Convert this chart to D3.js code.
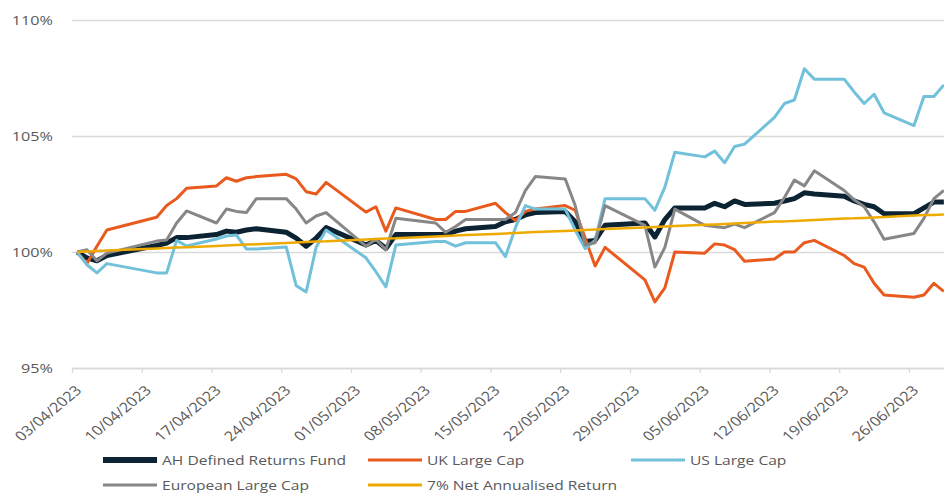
<!DOCTYPE html>
<html lang="en">
<head>
<meta charset="UTF-8">
<title>AH Defined Returns Fund vs markets</title>
<script src="https://d3js.org/d3.v7.min.js"></script>
<style>
  body { margin: 0; background: #fff; }
  text { font-family: "Open Sans", sans-serif; fill: #595959; }
</style>
</head>
<body>
<div id="chart"></div>
<script>
// trading days shown on the chart
var dates = [
  "03/04/2023","04/04/2023","05/04/2023","06/04/2023","11/04/2023","12/04/2023","13/04/2023","14/04/2023",
  "17/04/2023","18/04/2023","19/04/2023","20/04/2023","21/04/2023",
  "24/04/2023","25/04/2023","26/04/2023","27/04/2023","28/04/2023",
  "02/05/2023","03/05/2023","04/05/2023","05/05/2023",
  "09/05/2023","10/05/2023","11/05/2023","12/05/2023",
  "15/05/2023","16/05/2023","17/05/2023","18/05/2023","19/05/2023",
  "22/05/2023","23/05/2023","24/05/2023","25/05/2023","26/05/2023",
  "30/05/2023","31/05/2023","01/06/2023","02/06/2023",
  "05/06/2023","06/06/2023","07/06/2023","08/06/2023","09/06/2023",
  "12/06/2023","13/06/2023","14/06/2023","15/06/2023","16/06/2023",
  "19/06/2023","20/06/2023","21/06/2023","22/06/2023","23/06/2023",
  "26/06/2023","27/06/2023","28/06/2023","29/06/2023"
];

var ahFund = [
  100.00, 99.75, 99.62, 99.85, 100.28, 100.38, 100.62, 100.62,
  100.75, 100.90, 100.85, 100.95, 101.00,
  100.85, 100.60, 100.25, 100.60, 101.05,
  100.30, 100.50, 100.15, 100.75,
  100.75, 100.75, 100.90, 101.00,
  101.10, 101.30, 101.40, 101.60, 101.70,
  101.75, 101.30, 100.45, 100.50, 101.15,
  101.25, 100.65, 101.40, 101.90,
  101.90, 102.10, 101.95, 102.20, 102.05,
  102.10, 102.20, 102.30, 102.55, 102.50,
  102.40, 102.20, 102.05, 101.95, 101.65,
  101.65, 101.90, 102.15, 102.15
];

var ukLargeCap = [
  100.00, 99.50, 100.25, 100.95, 101.50, 102.00, 102.30, 102.75,
  102.85, 103.20, 103.05, 103.20, 103.25,
  103.35, 103.15, 102.60, 102.50, 103.00,
  101.72, 101.95, 100.90, 101.90,
  101.40, 101.40, 101.75, 101.75,
  102.10, 101.70, 101.35, 101.75, 101.85,
  102.00, 101.80, 100.60, 99.40, 100.20,
  98.80, 97.85, 98.45, 100.00,
  99.95, 100.35, 100.30, 100.10, 99.60,
  99.70, 100.00, 100.00, 100.40, 100.50,
  99.85, 99.50, 99.35, 98.65, 98.15,
  98.05, 98.15, 98.65, 98.30
];

var usLargeCap = [
  100.00, 99.45, 99.10, 99.50, 99.10, 99.10, 100.50, 100.26,
  100.56, 100.69, 100.73, 100.13, 100.13,
  100.22, 98.55, 98.28, 100.20, 100.95,
  99.75, 99.15, 98.50, 100.30,
  100.45, 100.45, 100.25, 100.40,
  100.40, 99.80, 101.05, 102.00, 101.85,
  101.85, 100.95, 100.15, 100.50, 102.30,
  102.30, 101.80, 102.80, 104.30,
  104.10, 104.35, 103.85, 104.55, 104.65,
  105.80, 106.40, 106.55, 107.90, 107.45,
  107.45, 106.90, 106.40, 106.80, 106.00,
  105.45, 106.70, 106.70, 107.20
];

var euroLargeCap = [
  100.00, 100.10, 99.62, 99.95, 100.47, 100.52, 101.25, 101.77,
  101.25, 101.85, 101.75, 101.70, 102.30,
  102.30, 101.85, 101.25, 101.55, 101.70,
  100.25, 100.55, 100.10, 101.45,
  101.25, 100.85, 101.10, 101.40,
  101.40, 101.40, 101.70, 102.65, 103.25,
  103.15, 102.00, 100.30, 100.40, 102.00,
  101.15, 99.35, 100.20, 101.85,
  101.15, 101.10, 101.05, 101.20, 101.05,
  101.70, 102.35, 103.10, 102.85, 103.50,
  102.65, 102.25, 101.95, 101.30, 100.55,
  100.80, 101.45, 102.30, 102.65
];

var netReturn7 = [
  100.00, 100.02, 100.04, 100.06, 100.15, 100.17, 100.19, 100.20,
  100.26, 100.28, 100.30, 100.32, 100.33,
  100.39, 100.41, 100.43, 100.45, 100.46,
  100.54, 100.56, 100.58, 100.59,
  100.67, 100.69, 100.71, 100.73,
  100.78, 100.80, 100.82, 100.84, 100.86,
  100.91, 100.93, 100.95, 100.97, 100.99,
  101.06, 101.08, 101.10, 101.12,
  101.17, 101.19, 101.21, 101.23, 101.25,
  101.31, 101.32, 101.34, 101.36, 101.38,
  101.44, 101.45, 101.47, 101.49, 101.51,
  101.57, 101.59, 101.60, 101.62
];

var yTicks = [95, 100, 105, 110];
var xTicks = ["03/04/2023","10/04/2023","17/04/2023","24/04/2023","01/05/2023","08/05/2023","15/05/2023",
              "22/05/2023","29/05/2023","05/06/2023","12/06/2023","19/06/2023","26/06/2023"];

var width = 944, height = 493;
var plotLeft = 72, plotTop = 20, plotBottom = 368;
var dayW = 9.964;            // px per calendar day
var stretch = 1.2;           // text is drawn a little wide, like the original
var parse = d3.timeParse("%d/%m/%Y");

var series = [
  { name: "AH Defined Returns Fund", values: ahFund, color: "#0C2333", w: 5 },
  { name: "UK Large Cap", values: ukLargeCap, color: "#E95A1F", w: 3 },
  { name: "US Large Cap", values: usLargeCap, color: "#72C1DA", w: 3 },
  { name: "European Large Cap", values: euroLargeCap, color: "#878787", w: 3 },
  { name: "7% Net Annualised Return", values: netReturn7, color: "#EEAA00", w: 2.5 }
];

var x = d3.scaleTime()
  .domain([parse("03/04/2023"), parse("01/07/2023")])
  .range([plotLeft, plotLeft + 89 * dayW]);
var y = d3.scaleLinear().domain([95, 110]).range([plotBottom, plotTop]);

var svg = d3.select("#chart").append("svg")
  .attr("width", width)
  .attr("height", height);

// gridlines + y labels
var yAxis = svg.append("g")
  .attr("transform", "translate(" + plotLeft + ",0)")
  .call(d3.axisLeft(y).tickValues(yTicks).tickSize(-(width - plotLeft)).tickFormat(function(d){ return d + "%"; }));
yAxis.select(".domain").remove();
yAxis.selectAll(".tick line").attr("stroke", "#D9D9D9").attr("stroke-width", 1.3);
yAxis.selectAll(".tick text")
  .attr("transform", "scale(" + stretch + ",1)")
  .attr("x", -19 / stretch)
  .style("font-size", "13.5px")
  .style("fill", "#595959");

// x axis with weekly ticks
var xAxis = svg.append("g")
  .attr("transform", "translate(0," + plotBottom + ")")
  .call(d3.axisBottom(x)
    .tickValues(xTicks.map(parse))
    .tickSize(5)
    .tickSizeOuter(0)
    .tickFormat(d3.timeFormat("%d/%m/%Y")));
xAxis.select(".domain").attr("stroke", "#D9D9D9").attr("stroke-width", 1.3);
xAxis.selectAll(".tick line").attr("stroke", "#D9D9D9").attr("stroke-width", 1.3);
xAxis.selectAll(".tick text")
  .attr("x", 0).attr("y", 0).attr("dy", "0.35em")
  .attr("text-anchor", "end")
  .attr("transform", "translate(6,20) scale(" + stretch + ",1) rotate(-45)")
  .style("font-size", "13.5px")
  .style("fill", "#595959");

// series lines
var line = d3.line()
  .x(function(d, i){ return x(parse(dates[i])) + dayW / 2; })
  .y(function(d){ return y(d); });

svg.append("g").selectAll("path")
  .data(series)
  .join("path")
  .attr("d", function(s){ return line(s.values); })
  .attr("fill", "none")
  .attr("stroke", function(s){ return s.color; })
  .attr("stroke-width", function(s){ return s.w; })
  .attr("stroke-linejoin", "round");

// legend
var legendPos = [[103, 460], [368, 460], [631, 460], [103, 485], [368, 485]];
var legend = svg.append("g").selectAll("g")
  .data(series)
  .join("g")
  .attr("transform", function(s, i){ return "translate(" + legendPos[i][0] + "," + legendPos[i][1] + ")"; });
legend.append("line")
  .attr("x1", 0).attr("x2", 54)
  .attr("stroke", function(s){ return s.color; })
  .attr("stroke-width", function(s){ return s.w === 5 ? 6 : 3; });
legend.append("text")
  .attr("transform", "translate(59,0) scale(" + stretch + ",1)")
  .attr("dy", "0.35em")
  .style("font-size", "13px")
  .text(function(s){ return s.name; });
</script>
</body>
</html>
